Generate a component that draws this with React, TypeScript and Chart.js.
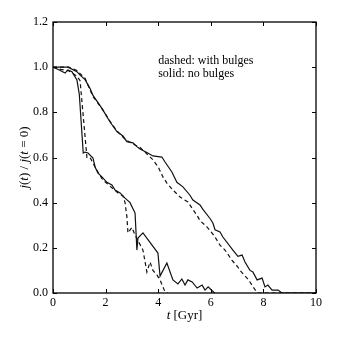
import React, { useEffect, useRef } from "react";
import { Chart, registerables } from "chart.js";

Chart.register(...registerables);

// ---- data ----
// solid: no bulges, slow decline
const tSolidSlow = [0, 0.2, 0.57, 0.91, 1.03, 1.22, 1.41, 1.52, 1.79, 1.9, 2.17, 2.43, 2.66, 2.81, 3.04, 3.19, 3.31, 3.57, 3.8, 4.14, 4.26, 4.52, 4.71, 4.94, 5.2, 5.32, 5.59, 5.7, 5.97, 6.08, 6.16, 6.35, 6.46, 6.84, 7.03, 7.19, 7.3, 7.49, 7.6, 7.76, 7.95, 8.06, 8.17, 8.33, 8.56, 8.7, 10];
const vSolidSlow = [1.0, 1.0, 1.0, 0.98, 0.965, 0.945, 0.905, 0.875, 0.83, 0.81, 0.757, 0.715, 0.695, 0.67, 0.665, 0.648, 0.638, 0.622, 0.607, 0.602, 0.58, 0.536, 0.49, 0.47, 0.434, 0.412, 0.39, 0.37, 0.33, 0.31, 0.28, 0.27, 0.248, 0.19, 0.162, 0.168, 0.137, 0.1, 0.093, 0.058, 0.066, 0.027, 0.035, 0.013, 0.013, 0.0, 0.0];

// dashed: with bulges, slow decline
const tDashedSlow = [0, 0.3, 0.6, 0.91, 1.22, 1.52, 1.9, 2.17, 2.43, 2.66, 2.81, 3.04, 3.3, 3.5, 3.8, 4.0, 4.18, 4.33, 4.56, 4.83, 5.13, 5.32, 5.51, 5.59, 5.86, 6.05, 6.16, 6.35, 6.54, 6.8, 7.03, 7.11, 7.41, 7.68, 7.8, 10];
const vDashedSlow = [1.0, 1.0, 1.0, 0.985, 0.95, 0.87, 0.81, 0.76, 0.718, 0.69, 0.675, 0.66, 0.645, 0.624, 0.59, 0.558, 0.514, 0.487, 0.456, 0.425, 0.403, 0.37, 0.337, 0.32, 0.292, 0.265, 0.248, 0.212, 0.19, 0.146, 0.115, 0.1, 0.062, 0.015, 0.0, 0.0];

// solid: no bulges, fast decline
const tSolidFast = [0, 0.2, 0.46, 0.57, 0.72, 0.91, 1.0, 1.15, 1.22, 1.33, 1.52, 1.6, 1.71, 1.86, 2.05, 2.24, 2.36, 2.55, 2.74, 2.93, 3.12, 3.19, 3.23, 3.42, 3.99, 4.07, 4.33, 4.56, 4.75, 4.9, 5.02, 5.13, 5.29, 5.48, 5.67, 5.78, 5.9, 6.05, 6.15];
const vSolidFast = [1.0, 0.99, 0.974, 0.988, 0.98, 0.943, 0.88, 0.62, 0.624, 0.62, 0.598, 0.558, 0.531, 0.514, 0.49, 0.478, 0.456, 0.443, 0.42, 0.4, 0.354, 0.19, 0.243, 0.266, 0.177, 0.075, 0.133, 0.058, 0.04, 0.062, 0.035, 0.058, 0.049, 0.022, 0.035, 0.013, 0.027, 0.01, 0.0];

// dashed: with bulges, fast decline
const tDashedFast = [0, 0.3, 0.57, 0.72, 0.91, 1.03, 1.29, 1.41, 1.52, 1.71, 1.9, 2.1, 2.3, 2.5, 2.66, 2.74, 2.81, 2.85, 3.0, 3.12, 3.42, 3.57, 3.69, 3.8, 3.95, 4.07, 4.26, 4.35];
const vDashedFast = [1.0, 0.99, 0.985, 0.975, 0.96, 0.94, 0.6, 0.6, 0.575, 0.535, 0.5, 0.48, 0.46, 0.44, 0.43, 0.4, 0.337, 0.266, 0.29, 0.257, 0.19, 0.093, 0.137, 0.1, 0.08, 0.058, 0.005, 0.0];

const xTickValues = [0, 2, 4, 6, 8, 10];
const yTickValues = [0, 0.2, 0.4, 0.6, 0.8, 1.0, 1.2];

const noteLines = ["dashed: with bulges", "solid: no bulges"];
const noteAnchor = { t: 4.0, v: [1.03, 0.97] };

const FONT = "'Liberation Serif', 'DejaVu Serif', serif";

type Seg = { text: string; italic?: boolean };
const xTitle: Seg[] = [{ text: "t", italic: true }, { text: " [Gyr]" }];
const yTitle: Seg[] = [
  { text: "j", italic: true },
  { text: "(" },
  { text: "t", italic: true },
  { text: ") / " },
  { text: "j", italic: true },
  { text: "(" },
  { text: "t", italic: true },
  { text: " = 0)" },
];

function toPoints(t: number[], v: number[]) {
  return t.map((x, i) => ({ x, y: v[i] }));
}

function drawSegs(ctx: CanvasRenderingContext2D, segs: Seg[], size: number, cx: number, cy: number) {
  const fontOf = (s: Seg) => `${s.italic ? "italic " : ""}${size}px ${FONT}`;
  let total = 0;
  const widths = segs.map((s) => {
    ctx.font = fontOf(s);
    const w = ctx.measureText(s.text).width;
    total += w;
    return w;
  });
  let x = cx - total / 2;
  ctx.textBaseline = "middle";
  ctx.textAlign = "left";
  segs.forEach((s, i) => {
    ctx.font = fontOf(s);
    ctx.fillText(s.text, x, cy);
    x += widths[i];
  });
}

const decorPlugin = {
  id: "decor",
  afterDatasetsDraw(chart: any) {
    const { ctx, chartArea, scales } = chart;
    const { left, right, top, bottom } = chartArea;
    const x = scales.x;
    const y = scales.y;
    ctx.save();
    ctx.strokeStyle = "#000";
    ctx.fillStyle = "#000";
    ctx.lineWidth = 1;
    const tl = 4;
    ctx.beginPath();
    xTickValues.forEach((v) => {
      const px = Math.round(x.getPixelForValue(v)) + 0.5;
      ctx.moveTo(px, bottom);
      ctx.lineTo(px, bottom - tl);
      ctx.moveTo(px, top);
      ctx.lineTo(px, top + tl);
    });
    yTickValues.forEach((v) => {
      const py = Math.round(y.getPixelForValue(v)) + 0.5;
      ctx.moveTo(left, py);
      ctx.lineTo(left + tl, py);
      ctx.moveTo(right, py);
      ctx.lineTo(right - tl, py);
    });
    ctx.stroke();
    ctx.lineWidth = 1.3;
    ctx.strokeRect(left, top, right - left, bottom - top);

    // annotation
    ctx.font = `12px ${FONT}`;
    ctx.textAlign = "left";
    ctx.textBaseline = "middle";
    noteLines.forEach((line, i) => {
      ctx.fillText(line, x.getPixelForValue(noteAnchor.t), y.getPixelForValue(noteAnchor.v[i]));
    });

    // axis titles
    drawSegs(ctx, xTitle, 13, (left + right) / 2, 316);
    ctx.translate(25, (top + bottom) / 2);
    ctx.rotate(-Math.PI / 2);
    drawSegs(ctx, yTitle, 13, 0, 0);
    ctx.restore();
  },
};

export default function App() {
  const ref = useRef<HTMLCanvasElement | null>(null);
  useEffect(() => {
    if (!ref.current) return;
    const lineStyle = { borderColor: "#111", borderWidth: 1.2, pointRadius: 0, tension: 0, fill: false };
    const chart = new Chart(ref.current, {
      type: "line",
      data: {
        datasets: [
          { ...lineStyle, label: "no bulges (slow)", data: toPoints(tSolidSlow, vSolidSlow) },
          { ...lineStyle, label: "with bulges (slow)", data: toPoints(tDashedSlow, vDashedSlow), borderDash: [4, 3] },
          { ...lineStyle, label: "no bulges (fast)", data: toPoints(tSolidFast, vSolidFast) },
          { ...lineStyle, label: "with bulges (fast)", data: toPoints(tDashedFast, vDashedFast), borderDash: [4, 3] },
        ],
      },
      options: {
        responsive: false,
        animation: false,
        layout: { padding: { left: 0, right: 24, top: 22, bottom: 0 } },
        plugins: { legend: { display: false }, tooltip: { enabled: false } },
        scales: {
          x: {
            type: "linear",
            min: 0,
            max: 10,
            afterBuildTicks: (s: any) => {
              s.ticks = xTickValues.map((value) => ({ value }));
            },
            afterFit: (s: any) => {
              s.height = 47;
            },
            grid: { display: false, drawTicks: false },
            border: { display: false },
            ticks: {
              color: "#000",
              font: { family: FONT, size: 12 },
              padding: 3,
              maxRotation: 0,
              callback: (v: any) => String(v),
            },
          },
          y: {
            type: "linear",
            min: 0,
            max: 1.2,
            afterBuildTicks: (s: any) => {
              s.ticks = yTickValues.map((value) => ({ value }));
            },
            afterFit: (s: any) => {
              s.width = 53;
            },
            grid: { display: false, drawTicks: false },
            border: { display: false },
            ticks: {
              color: "#000",
              font: { family: FONT, size: 12 },
              padding: 5,
              callback: (v: any) => Number(v).toFixed(1),
            },
          },
        },
      },
      plugins: [decorPlugin],
    } as any);
    return () => chart.destroy();
  }, []);
  return (
    <div style={{ position: "fixed", left: 0, top: 0, width: 340, height: 340, background: "#fff" }}>
      <canvas ref={ref} width={340} height={340} style={{ display: "block" }} />
    </div>
  );
}
